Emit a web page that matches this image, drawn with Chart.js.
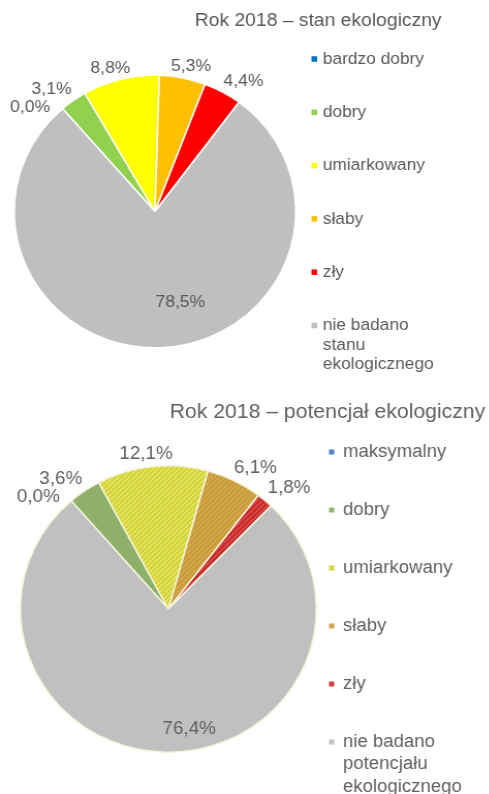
<!DOCTYPE html>
<html>
<head>
<meta charset="utf-8">
<script src="https://cdn.jsdelivr.net/npm/chart.js@4"></script>
<style>
  body { margin: 0; background: #fff; width: 489px; height: 794px; overflow: hidden; position: relative; }
  /* oryginal jest lekko rozciagniety w poziomie */
  .box { position: absolute; left: 0; width: 489px; height: 397px; transform: scaleX(1.033); transform-origin: 0 0; }
</style>
</head>
<body>
<div class="box" style="top:0"><canvas id="chartStan" width="489" height="397"></canvas></div>
<div class="box" style="top:397px"><canvas id="chartPot" width="489" height="397"></canvas></div>
<script>
// dane
const stanTitle = 'Rok 2018 – stan ekologiczny';
const stanLabels = ['bardzo dobry', 'dobry', 'umiarkowany', 'słaby', 'zły', ['nie badano', 'stanu', 'ekologicznego']];
const stanValues = [0.0, 3.1, 8.8, 5.3, 4.4, 78.5];

const potTitle = 'Rok 2018 – potencjał ekologiczny';
const potLabels = ['maksymalny', 'dobry', 'umiarkowany', 'słaby', 'zły', ['nie badano', 'potencjału', 'ekologicznego']];
const potValues = [0.0, 3.6, 12.1, 6.1, 1.8, 76.4];

const FONT = '"Liberation Sans", Arial, sans-serif';

function hatch(base, stripe) {
  const c = document.createElement('canvas');
  c.width = 5; c.height = 5;
  const g = c.getContext('2d');
  g.fillStyle = base;
  g.fillRect(0, 0, 5, 5);
  g.strokeStyle = stripe;
  g.lineWidth = 1.4;
  g.beginPath();
  g.moveTo(-2.5, 2.5); g.lineTo(2.5, -2.5);
  g.moveTo(0, 5); g.lineTo(5, 0);
  g.moveTo(2.5, 7.5); g.lineTo(7.5, 2.5);
  g.stroke();
  return g.createPattern(c, 'repeat');
}

const fmt = v => v.toFixed(1).replace('.', ',') + '%';
const clamp = v => Math.max(-1, Math.min(1, v));

// etykiety, tytul i legenda
const excelLook = {
  id: 'excelLook',
  afterDatasetsDraw(chart) {
    const o = chart.options.plugins.excelLook;
    const ctx = chart.ctx;
    const arcs = chart.getDatasetMeta(0).data;
    const vals = chart.data.datasets[0].data;
    ctx.save();
    ctx.font = o.labelSize + 'px ' + FONT;
    ctx.fillStyle = o.color;
    ctx.textAlign = 'center';
    ctx.textBaseline = 'middle';
    const h = o.labelSize;
    const placed = [];
    for (let i = arcs.length - 1; i >= 0; i--) {
      const p = arcs[i].getProps(['x', 'y', 'startAngle', 'endAngle', 'outerRadius'], true);
      const txt = fmt(vals[i]);
      const w = ctx.measureText(txt).width;
      let a = (p.startAngle + p.endAngle) / 2;
      if (i === arcs.length - 1) {
        const rr = p.outerRadius * o.insideRatio;
        const b = a + o.insideShift * Math.PI / 180;
        ctx.fillText(txt, p.x + rr * Math.cos(b), p.y + rr * Math.sin(b));
        continue;
      }
      let box;
      for (let k = 0; k < 80; k++) {
        const rr = p.outerRadius + o.gap;
        const cx = p.x + rr * Math.cos(a) + (w / 2) * clamp(2 * Math.cos(a));
        const cy = p.y + rr * Math.sin(a) + (h / 2) * clamp(2 * Math.sin(a));
        box = {x1: cx - w / 2, x2: cx + w / 2, y1: cy - h / 2, y2: cy + h / 2, cx, cy};
        const hit = placed.some(b => box.x1 < b.x2 && box.x2 > b.x1 && box.y1 < b.y2 && box.y2 > b.y1);
        if (!hit) break;
        a -= 0.02;
      }
      placed.push(box);
      ctx.fillText(txt, box.cx, box.cy);
    }
    ctx.restore();
  },
  afterDraw(chart) {
    const o = chart.options.plugins.excelLook;
    const ctx = chart.ctx;
    const ds = chart.data.datasets[0];
    ctx.save();
    ctx.fillStyle = o.color;
    ctx.textBaseline = 'middle';
    ctx.textAlign = 'center';
    ctx.font = o.titleSize + 'px ' + FONT;
    ctx.fillText(o.title, o.titleX, o.titleY);
    ctx.textAlign = 'left';
    ctx.font = o.legendSize + 'px ' + FONT;
    chart.data.labels.forEach((lab, i) => {
      const y = o.legY + i * o.legStep;
      ctx.fillStyle = ds.legendColors[i];
      ctx.fillRect(o.legX, y - o.legBox / 2, o.legBox, o.legBox);
      ctx.fillStyle = o.color;
      const lines = Array.isArray(lab) ? lab : [lab];
      lines.forEach((ln, j) => ctx.fillText(ln, o.legX + o.legTextGap, y + j * o.legLine));
    });
    ctx.restore();
  }
};

function pie(id, labels, values, colors, legendColors, border, layout, look) {
  return new Chart(document.getElementById(id), {
    type: 'pie',
    data: {
      labels: labels,
      datasets: [{
        data: values,
        backgroundColor: colors,
        legendColors: legendColors,
        borderColor: border,
        borderWidth: 1.5
      }]
    },
    options: {
      responsive: false,
      devicePixelRatio: 1,
      animation: false,
      rotation: look.rotation,
      layout: { padding: layout },
      plugins: {
        legend: { display: false },
        tooltip: { enabled: false },
        excelLook: look
      }
    },
    plugins: [excelLook]
  });
}

const stanColors = ['#0070C0', '#92D050', '#FFFF00', '#FFC000', '#FF0000', '#BFBFBF'];
pie('chartStan', stanLabels, stanValues, stanColors, stanColors, '#ffffff',
  { left: 13, right: 202, top: 74, bottom: 48 },
  {
    rotation: -41, color: '#595959', title: stanTitle, titleX: 308, titleY: 21, titleSize: 18.7,
    labelSize: 17, gap: 3, insideRatio: 0.69, insideShift: -13,
    legX: 301.5, legY: 59, legStep: 53.3, legLine: 19.5, legBox: 5.5, legTextGap: 11, legendSize: 16.8
  });

const potLegend = ['#4F81BD', '#8FB36A', '#D4D43A', '#D2A64C', '#D63B3B', '#C0C0C0'];
const potColors = [
  '#4F81BD',
  '#8EB06A',
  hatch('#D2D236', '#E8E86C'),
  hatch('#D4A846', '#C4963C'),
  hatch('#E04444', '#B82424'),
  '#C0C0C0'
];
pie('chartPot', potLabels, potValues, potColors, potLegend, '#F4F4DC',
  { left: 19, right: 182, top: 68, bottom: 41 },
  {
    rotation: -41, color: '#606060', title: potTitle, titleX: 317, titleY: 15, titleSize: 20.5,
    labelSize: 18.2, gap: 4, insideRatio: 0.85, insideShift: -11,
    legX: 318.5, legY: 55, legStep: 58, legLine: 22.5, legBox: 5, legTextGap: 13.5, legendSize: 18
  });
</script>
</body>
</html>
